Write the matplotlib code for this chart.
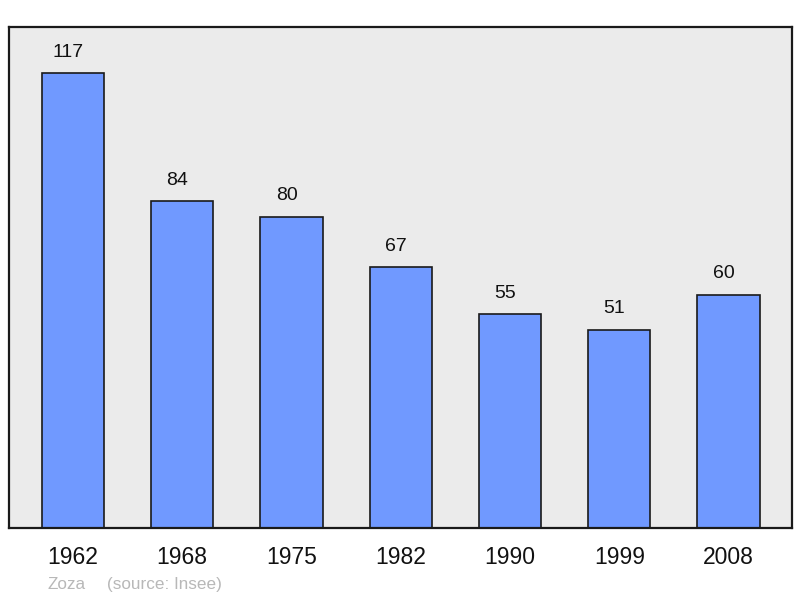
import matplotlib
matplotlib.use('Agg')
import matplotlib.pyplot as plt

years = ['1962', '1968', '1975', '1982', '1990', '1999', '2008']
population = [117, 84, 80, 67, 55, 51, 60]

plt.rcParams['font.family'] = ['Liberation Sans', 'DejaVu Sans']

fig = plt.figure(figsize=(8, 5.98), dpi=100)
# axes box: x 9..792 px, y 27..528 px
ax = fig.add_axes([9/800, 1 - 528/598, 783/800, 501/598])
ax.set_facecolor('#ebebeb')

pos = list(range(len(years)))
ax.bar(pos, population, width=0.57, color='#7099ff', edgecolor='#1a1a1a', linewidth=1.2, zorder=2)
for x, v in zip(pos, population):
    ax.annotate(str(v), (x, v), xytext=(-3.5, 15), textcoords='offset points',
                ha='center', va='center', fontsize=14, color='#111111')

ax.set_xlim(-0.585, 6.58)
ax.set_ylim(0, 128.8)
ax.set_yticks([])
ax.set_xticks(pos)
ax.set_xticklabels(years, fontsize=16.5, color='#111111')
ax.tick_params(axis='x', length=0, pad=13)
for s in ax.spines.values():
    s.set_linewidth(1.6)
    s.set_color('#1a1a1a')

fig.text(48/800, 1 - 589/598, 'Zoza', fontsize=12.3, color='#b8b8b8', va='baseline')
fig.text(107/800, 1 - 589/598, '(source: Insee)', fontsize=12.3, color='#b8b8b8', va='baseline')

fig.savefig('out.png', dpi=100)
